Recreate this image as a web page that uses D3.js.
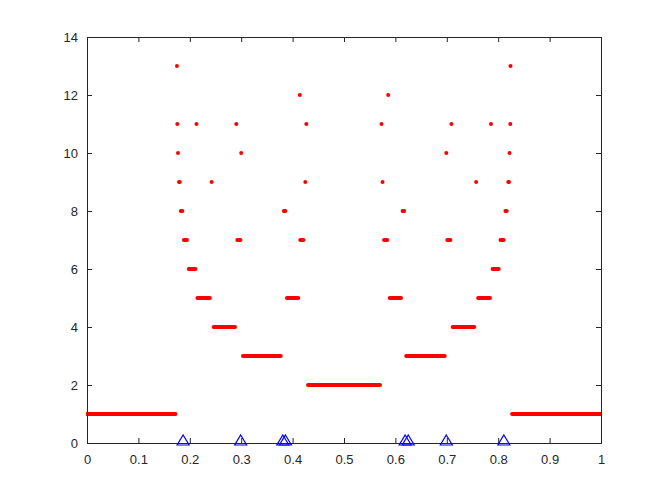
<!DOCTYPE html>
<html>
<head>
<meta charset="utf-8">
<script src="https://cdn.jsdelivr.net/npm/d3@7"></script>
<style>
  html, body { margin: 0; padding: 0; background: #ffffff; }
  svg { display: block; }
</style>
</head>
<body>
<svg id="chart" width="664" height="498"></svg>
<script>
// ---- data ----
// horizontal runs of red points: level (y), start x, end x
const segLevel = [1, 1, 2, 3, 3, 4, 4, 5, 5, 5, 5, 6, 6,
                  7, 7, 7, 7, 7, 7,
                  8, 8, 8, 8,
                  9, 9, 9, 9, 9, 9,
                  10, 10, 10, 10,
                  11, 11, 11, 11, 11, 11, 11, 11,
                  12, 12,
                  13, 13];
const segStart = [0.000, 0.827, 0.430, 0.3035, 0.621, 0.2465, 0.7115, 0.215, 0.389, 0.589, 0.761, 0.198, 0.789,
                  0.1885, 0.2925, 0.415, 0.578, 0.701, 0.8045,
                  0.1825, 0.3830, 0.6140, 0.8140,
                  0.1790, 0.2425, 0.4247, 0.5750, 0.7570, 0.8195,
                  0.1770, 0.3000, 0.6990, 0.8220,
                  0.1757, 0.2130, 0.2905, 0.4267, 0.5730, 0.7090, 0.7860, 0.8236,
                  0.4140, 0.5860,
                  0.1750, 0.8240];
const segEnd   = [0.172, 1.000, 0.570, 0.377, 0.696, 0.288, 0.7535, 0.239, 0.411, 0.611, 0.784, 0.211, 0.801,
                  0.1945, 0.2985, 0.421, 0.584, 0.707, 0.8105,
                  0.1855, 0.3860, 0.6170, 0.8165,
                  0.1805, 0.2425, 0.4247, 0.5750, 0.7570, 0.8210,
                  0.1770, 0.3000, 0.6990, 0.8220,
                  0.1757, 0.2130, 0.2905, 0.4267, 0.5730, 0.7090, 0.7860, 0.8236,
                  0.4140, 0.5860,
                  0.1750, 0.8240];
// blue open triangles on the x axis
const triX = [0.187, 0.299, 0.381, 0.386, 0.619, 0.625, 0.699, 0.811];
const triY = [0, 0, 0, 0, 0, 0, 0, 0];
// tick values
const xTicks = [0, 0.1, 0.2, 0.3, 0.4, 0.5, 0.6, 0.7, 0.8, 0.9, 1];
const yTicks = [0, 2, 4, 6, 8, 10, 12, 14];

// ---- layout ----
const W = 664, H = 498;
const L = 87, R = 601, T = 37, B = 443;
const axisColor = "#262626";

const svg = d3.select("#chart");
svg.append("rect").attr("width", W).attr("height", H).attr("fill", "#ffffff");

const x = d3.scaleLinear().domain([0, 1]).range([L, R]);
const y = d3.scaleLinear().domain([0, 14]).range([B, T]);

const segs = segLevel.map((lv, i) => ({ level: lv, x0: segStart[i], x1: segEnd[i] }));

svg.append("defs").append("clipPath").attr("id", "clip")
  .append("rect").attr("x", L - 1).attr("y", T - 3).attr("width", R - L + 2).attr("height", B - T + 6);

// red runs
svg.append("g").attr("clip-path", "url(#clip)")
  .selectAll("line").data(segs).join("line")
  .attr("x1", d => x(d.x0)).attr("x2", d => x(d.x1))
  .attr("y1", d => y(d.level)).attr("y2", d => y(d.level))
  .attr("stroke", "#ff0000").attr("stroke-width", 4)
  .attr("stroke-linecap", "round");

// axes (box style, ticks inward)
const fmt = d => d3.format("")(d);
const font = "'Liberation Sans', Arial, Helvetica, sans-serif";

const gxB = svg.append("g").attr("transform", `translate(0,${B})`)
  .call(d3.axisBottom(x).tickValues(xTicks).tickSize(-5).tickPadding(12).tickFormat(fmt));
const gxT = svg.append("g").attr("transform", `translate(0,${T})`)
  .call(d3.axisTop(x).tickValues(xTicks).tickSize(-5).tickFormat(""));
const gyL = svg.append("g").attr("transform", `translate(${L},0)`)
  .call(d3.axisLeft(y).tickValues(yTicks).tickSize(-5).tickPadding(9).tickFormat(fmt));
const gyR = svg.append("g").attr("transform", `translate(${R},0)`)
  .call(d3.axisRight(y).tickValues(yTicks).tickSize(-5).tickFormat(""));

[gxB, gxT, gyL, gyR].forEach(g => {
  g.select(".domain").attr("stroke", axisColor).attr("stroke-width", 1);
  g.selectAll(".tick line").attr("stroke", axisColor).attr("stroke-width", 1);
  g.selectAll(".tick text").attr("fill", axisColor)
    .style("font-family", font).style("font-size", "13px");
});

// blue open triangles
const triPath = "M0,-6.5L6,3.5L-6,3.5Z";
svg.append("g").selectAll("path").data(triX.map((v, i) => ({ x: v, y: triY[i] }))).join("path")
  .attr("transform", d => `translate(${x(d.x)},${y(d.y) - 1.5})`)
  .attr("d", triPath)
  .attr("fill", "none").attr("stroke", "#0000ff").attr("stroke-width", 1.2);
</script>
</body>
</html>
